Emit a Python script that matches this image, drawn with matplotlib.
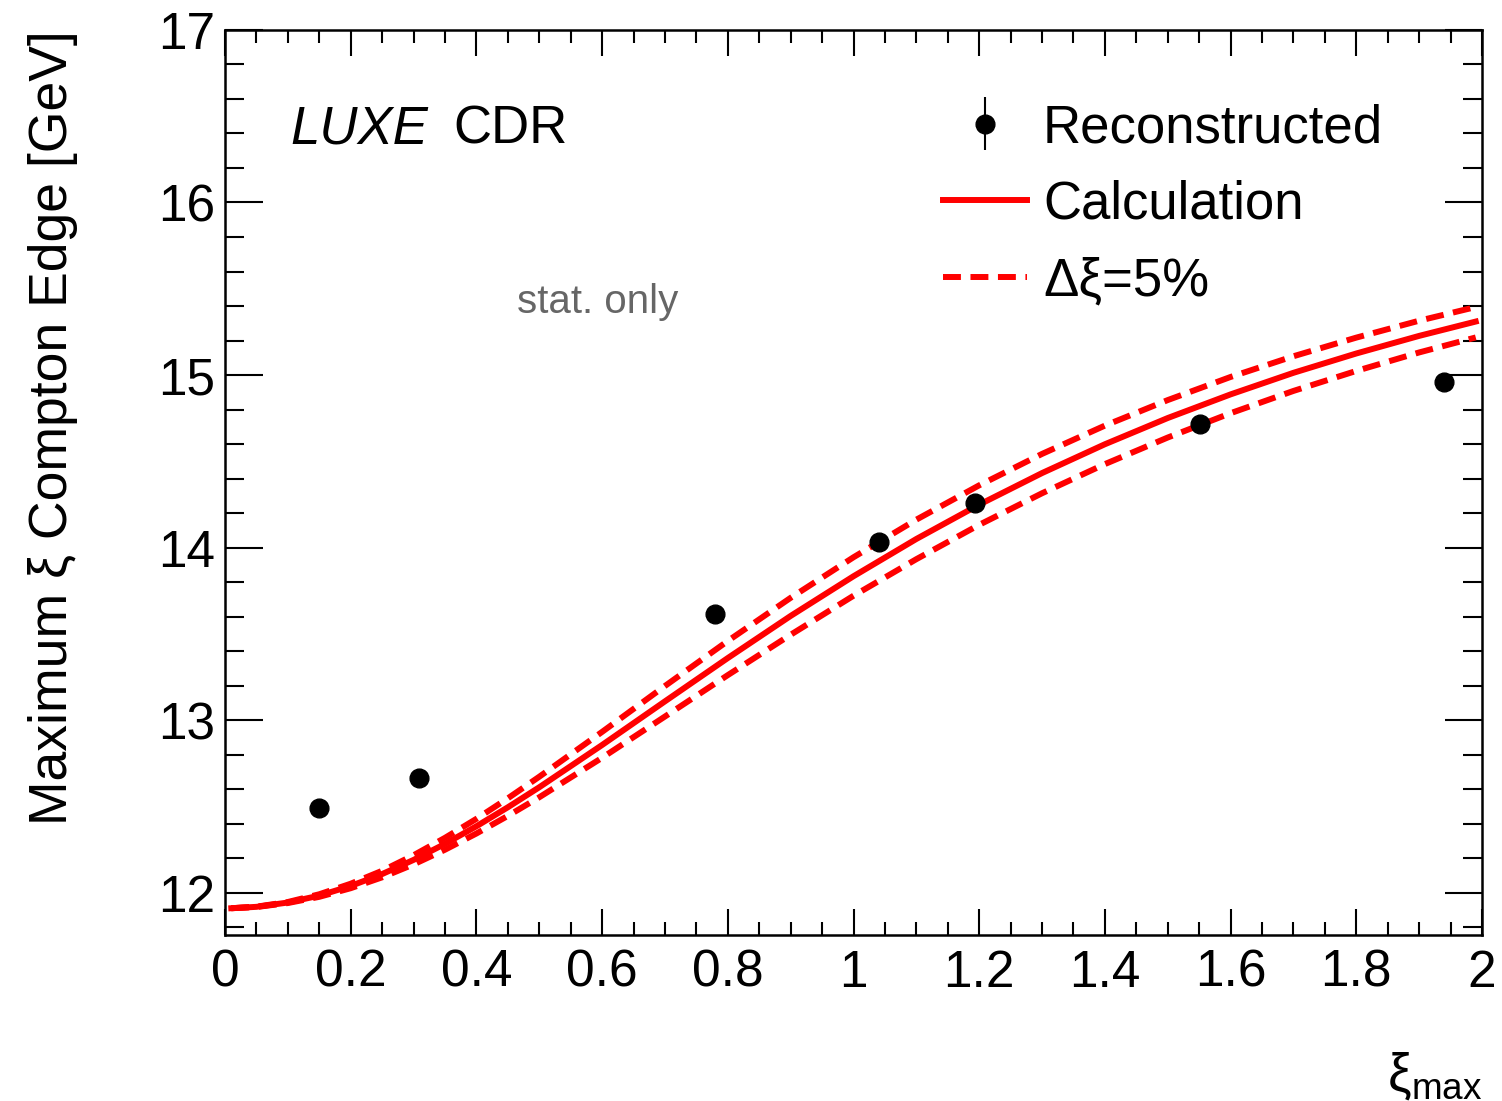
import numpy as np
import matplotlib.pyplot as plt
from matplotlib.ticker import MultipleLocator

plt.rcParams['font.family'] = ['Liberation Sans', 'DejaVu Sans']
plt.rcParams['mathtext.fontset'] = 'custom'
plt.rcParams['mathtext.rm'] = 'Liberation Sans'
plt.rcParams['mathtext.it'] = 'Liberation Sans:italic'

# reconstructed compton edge (stat. only)
xi_reco = [0.150, 0.309, 0.780, 1.040, 1.194, 1.551, 1.940]
e_reco = [12.489, 12.663, 13.616, 14.035, 14.257, 14.717, 14.959]
e_reco_err = [0.02, 0.02, 0.02, 0.02, 0.02, 0.02, 0.02]

# calculation
xi_calc = [0.01, 0.05, 0.1, 0.15, 0.2, 0.25, 0.3, 0.35, 0.4, 0.45, 0.5,
           0.6, 0.7, 0.8, 0.9, 1.0, 1.1, 1.2, 1.3, 1.4, 1.5, 1.6, 1.7,
           1.8, 1.9, 1.99]
e_calc = [11.910, 11.918, 11.943, 11.983, 12.039, 12.108, 12.190, 12.283,
          12.385, 12.495, 12.611, 12.856, 13.109, 13.360, 13.604, 13.834,
          14.050, 14.249, 14.432, 14.599, 14.751, 14.888, 15.013, 15.125,
          15.227, 15.310]
e_up = [11.910, 11.919, 11.946, 11.991, 12.052, 12.127, 12.217, 12.318,
        12.428, 12.547, 12.672, 12.932, 13.198, 13.459, 13.709, 13.944,
        14.162, 14.361, 14.543, 14.707, 14.855, 14.989, 15.109, 15.217,
        15.315, 15.394]
e_down = [11.910, 11.917, 11.940, 11.976, 12.026, 12.089, 12.164, 12.249,
          12.343, 12.445, 12.553, 12.782, 13.021, 13.261, 13.495, 13.721,
          13.933, 14.132, 14.315, 14.484, 14.638, 14.779, 14.908, 15.024,
          15.131, 15.218]

red = '#ff0000'
fs = 37

fig = plt.figure(figsize=(15.02, 11.01), dpi=100)
ax = fig.add_axes([0.1498, 0.1508, 0.8369, 0.8220])

ax.plot(xi_calc, e_calc, color=red, lw=4.3, label='Calculation', zorder=2)
ax.plot(xi_calc, e_up, color=red, lw=4.3, dashes=(3, 1.6), label='Δξ=5%', zorder=2)
ax.plot(xi_calc, e_down, color=red, lw=4.3, dashes=(3, 1.6), zorder=2)
ax.errorbar(xi_reco, e_reco, yerr=e_reco_err, fmt='o', color='black', ms=13.5,
            elinewidth=1.5, capsize=0, label='Reconstructed', zorder=3)

ax.set_xlim(0, 2)
ax.set_ylim(11.755, 17)

ax.xaxis.set_major_locator(MultipleLocator(0.2))
ax.xaxis.set_minor_locator(MultipleLocator(0.05))
ax.yaxis.set_major_locator(MultipleLocator(1))
ax.yaxis.set_minor_locator(MultipleLocator(0.2))
ax.set_xticks(np.arange(0, 2.01, 0.2))
ax.set_xticklabels(['0', '0.2', '0.4', '0.6', '0.8', '1', '1.2', '1.4', '1.6', '1.8', '2'])

ax.tick_params(axis='both', which='both', direction='in', top=True, right=True, width=1.5)
ax.tick_params(axis='x', which='major', length=18.7, labelsize=fs, pad=10)
ax.tick_params(axis='x', which='minor', length=9.4)
ax.tick_params(axis='y', which='major', length=27, labelsize=fs, pad=7)
ax.tick_params(axis='y', which='minor', length=13.7)
for s in ax.spines.values():
    s.set_linewidth(1.8)

ax.set_ylabel('Maximum ξ Compton Edge [GeV]', fontsize=38.5, loc='top', labelpad=58)
ax.set_xlabel(r'ξ$_{\rm max}$', fontsize=38, loc='right', labelpad=38)

ax.text(0.0517, 0.875, 'LUXE', fontsize=38, style='italic', transform=ax.transAxes, va='baseline')
ax.text(0.1814, 0.875, 'CDR', fontsize=38, transform=ax.transAxes, va='baseline')
ax.text(0.2967, 0.687, 'stat. only', fontsize=29, color='#666666', ha='center',
        transform=ax.transAxes, va='baseline')

h, l = ax.get_legend_handles_labels()
order = [2, 0, 1]
ax.legend([h[i] for i in order], [l[i] for i in order], loc='upper left',
          bbox_to_anchor=(0.571, 0.919), frameon=False, fontsize=38, borderpad=0,
          borderaxespad=0, handlelength=1.6, handletextpad=0.3, labelspacing=0.5)

fig.savefig('out.png', dpi=100)
